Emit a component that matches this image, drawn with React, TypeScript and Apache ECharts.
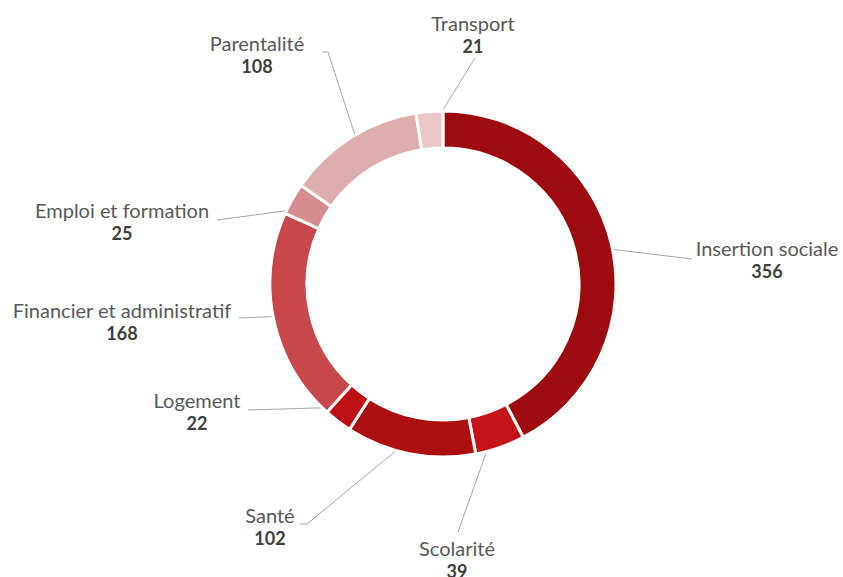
import React, { useEffect, useRef } from "react";
import * as echarts from "echarts";

const categories = [
  "Insertion sociale",
  "Scolarité",
  "Santé",
  "Logement",
  "Financier et administratif",
  "Emploi et formation",
  "Parentalité",
  "Transport",
];
const values = [356, 39, 102, 22, 168, 25, 108, 21];
const colors = ["#9E0B0F", "#C41216", "#AD0E10", "#BE0F13", "#C6484A", "#D68D8F", "#DEADAE", "#EBC7C8"];

// label block centres and leader-line start points (label side)
const labelCenters: number[][] = [
  [767, 259],
  [457, 559],
  [270, 526.5],
  [197, 411.5],
  [122, 321.5],
  [122, 221],
  [257, 54.5],
  [473, 34],
];
const leaderStarts: number[][][] = [
  [[692, 259]],
  [[458, 532]],
  [[300, 524], [307, 524]],
  [[248, 410]],
  [[239, 318]],
  [[217, 220]],
  [[322, 52], [328, 52]],
  [[475, 58]],
];

const CX = 443;
const CY = 284;
const R_IN = 136;
const R_OUT = 173;
const R_MID = 155;

export default function App() {
  const ref = useRef<HTMLDivElement>(null);
  useEffect(() => {
    if (!ref.current) return;
    const chart = echarts.init(ref.current, undefined, { renderer: "svg" });
    const total = values.reduce((a, b) => a + b, 0);
    const cum: number[] = [];
    let s = 0;
    values.forEach((v) => {
      cum.push(s + v / 2);
      s += v;
    });
    chart.setOption({
      animation: false,
      backgroundColor: "#ffffff",
      series: [
        {
          type: "pie",
          center: [CX, CY],
          radius: [R_IN, R_OUT],
          startAngle: 90,
          clockwise: true,
          avoidLabelOverlap: false,
          itemStyle: { borderColor: "#ffffff", borderWidth: 3 },
          label: {
            show: true,
            position: "outside",
            formatter: "{n|{b}}\n{v|{c}}",
            rich: {
              n: { fontFamily: "Lato", fontSize: 20, color: "#595959", lineHeight: 23 },
              v: { fontFamily: "Lato", fontSize: 18, fontWeight: "bold", color: "#404040", lineHeight: 23 },
            },
            align: "center",
          },
          labelLine: { show: true, lineStyle: { color: "#A6A6A6", width: 1 } },
          labelLayout: (params: any) => {
            const i = params.dataIndex;
            const ang = (cum[i] / total) * Math.PI * 2;
            const ax = CX + R_MID * Math.sin(ang);
            const ay = CY - R_MID * Math.cos(ang);
            const st = leaderStarts[i];
            return {
              x: labelCenters[i][0],
              y: labelCenters[i][1],
              align: "center",
              verticalAlign: "middle",
              labelLinePoints: st.length === 1 ? [[ax, ay], [ax, ay], st[0]] : [[ax, ay], st[1], st[0]],
            };
          },
          data: categories.map((c, i) => ({ name: c, value: values[i], itemStyle: { color: colors[i] } })),
        },
      ],
    });
    return () => chart.dispose();
  }, []);
  return (
    <div
      ref={ref}
      style={{ position: "fixed", left: 0, top: 0, width: 843, height: 577, background: "#fff" }}
    />
  );
}
